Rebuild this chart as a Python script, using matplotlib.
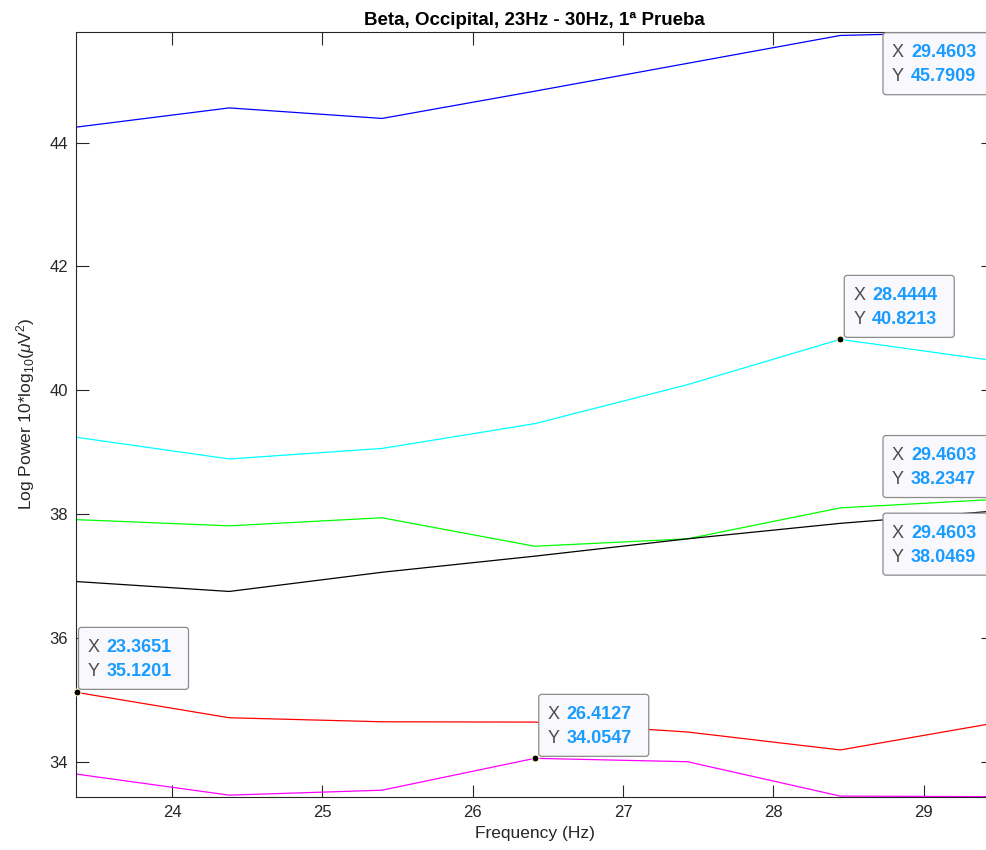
import matplotlib.pyplot as plt
import matplotlib.transforms as mtrans
from matplotlib.patches import FancyBboxPatch

plt.rcParams['font.family'] = ['Liberation Sans', 'DejaVu Sans']
plt.rcParams['mathtext.fontset'] = 'custom'
plt.rcParams['mathtext.rm'] = 'Liberation Sans'
plt.rcParams['mathtext.it'] = 'Liberation Sans:italic'

# frequency bins (Hz)
freq = [23.3651, 24.3810, 25.3968, 26.4127, 27.4286, 28.4444, 29.4603]

# log power per channel
blue = [44.25, 44.56, 44.39, 44.83, 45.28, 45.73, 45.7909]
cyan = [39.24, 38.89, 39.06, 39.46, 40.09, 40.8213, 40.48]
green = [37.91, 37.81, 37.94, 37.48, 37.60, 38.10, 38.2347]
black = [36.91, 36.75, 37.06, 37.32, 37.60, 37.85, 38.0469]
red = [35.1201, 34.71, 34.645, 34.64, 34.48, 34.19, 34.62]
magenta = [33.80, 33.46, 33.54, 34.0547, 34.00, 33.445, 33.435]

series = [blue, cyan, green, black, red, magenta]
colors = ['#0000ff', '#00ffff', '#00ff00', '#000000', '#ff0000', '#ff00ff']

# data tips: (series, point index, box offset from point in pixels)
tips = [
    (0, 6, -110, -63),
    (1, 5, 4, 2),
    (2, 6, -110, 2),
    (3, 6, -110, -64),
    (4, 0, 2, 3),
    (5, 3, 4, 2),
]

FW, FH = 987, 850
fig = plt.figure(figsize=(FW / 100, FH / 100), dpi=100)
ax = fig.add_axes([76.5 / FW, 53.3 / FH, (993 - 76.5) / FW, 765 / FH])

for s, c in zip(series, colors):
    ax.plot(freq, s, color=c, lw=0.9)

ymin = min(min(s) for s in series)
ymax = max(max(s) for s in series)
ax.set_xlim(freq[0], freq[-1])
ax.set_ylim(ymin, ymax)
ax.set_xticks([24, 25, 26, 27, 28, 29])
ax.set_yticks([34, 36, 38, 40, 42, 44])

ax.tick_params(direction='in', length=9, width=0.8, top=True, right=True,
               labelsize=12, colors='0.15', pad=6)
for sp in ax.spines.values():
    sp.set_color('0.15')
    sp.set_linewidth(0.8)

ax.set_title('Beta, Occipital, 23Hz - 30Hz, 1ª Prueba', fontsize=13.5,
             fontweight='bold', pad=5)
ax.set_xlabel('Frequency (Hz)', fontsize=12.5, color='0.15', labelpad=4)
ax.set_ylabel(r'Log Power 10*log$_{10}$($\mu$V$^2$)', fontsize=12.5,
              color='0.15', labelpad=9)

# data tip boxes, drawn in pixel offsets from the tipped point
W, H = 110, 62
fig.canvas.draw()
for si, pi, dx, dy in tips:
    x, y = freq[pi], series[si][pi]
    ax.plot(x, y, 'o', ms=5, mfc='k', mec='#fffacd', mew=0.8, zorder=5,
            clip_on=False)
    px, py = ax.transData.transform((x, y))
    rect = FancyBboxPatch((0, 0), W, H, boxstyle='round,pad=0,rounding_size=3',
                          fc='#f8f8fd', ec='0.55', lw=0.9, zorder=6)
    rect.set_transform(mtrans.Affine2D().translate(px + dx, py + dy))
    fig.add_artist(rect)
    for lab, val, ty in [('X', '%.4f' % x, H - 20), ('Y', '%.4f' % y, H - 44)]:
        fig.text((px + dx + 9) / FW, (py + dy + ty) / FH, lab, fontsize=13,
                 color='0.3', va='center', ha='left', zorder=7)
        fig.text((px + dx + 28) / FW, (py + dy + ty) / FH, val, fontsize=13,
                 color='#1a9cff', fontweight='bold', va='center', ha='left',
                 zorder=7)

fig.savefig('out.png', dpi=100)
